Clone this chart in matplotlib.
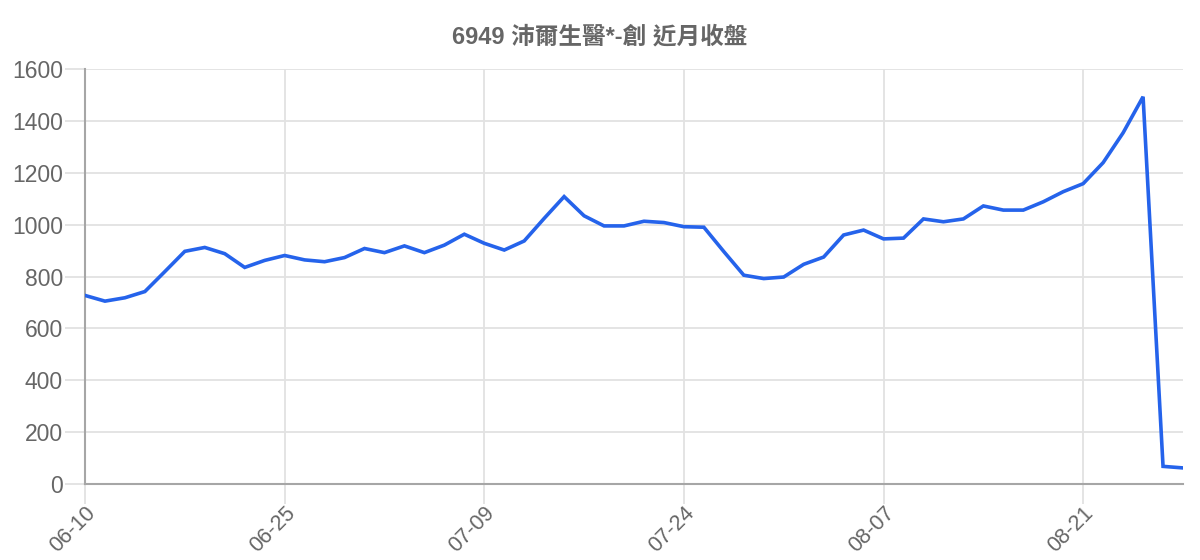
import matplotlib
matplotlib.use("Agg")
import matplotlib.pyplot as plt
import numpy as np

title = "6949 沛爾生醫*-創 近月收盤"
closes = [727, 705, 718, 742, 819, 897, 912, 888, 835, 862,
          881, 864, 857, 873, 908, 892, 918, 892, 921, 963,
          928, 902, 937, 1024, 1108, 1034, 995, 995, 1013, 1008,
          992, 990, 896, 805, 792, 798, 847, 875, 960, 979,
          945, 948, 1022, 1011, 1022, 1072, 1056, 1056, 1088, 1127,
          1158, 1239, 1354, 1493, 68, 62]
tick_labels = ["06-10", "06-25", "07-09", "07-24", "08-07", "08-21"]
tick_step = 10
y_ticks = [0, 200, 400, 600, 800, 1000, 1200, 1400, 1600]

plt.rcParams['font.family'] = ['Liberation Sans', 'Noto Sans CJK TC', 'DejaVu Sans']

fig = plt.figure(figsize=(12, 5.6), dpi=100)
ax = fig.add_axes([85/1200, 1-484/560, (1183-85)/1200, (484-69)/560])

x = np.arange(len(closes))
ax.plot(x, closes, color='#2563eb', lw=2.6, solid_joinstyle='miter', zorder=3)

ax.set_xlim(0, len(closes)-1)
ax.set_ylim(0, 1600)
ax.set_yticks(y_ticks)
ax.set_yticklabels([str(v) for v in y_ticks])
ax.set_xticks(x[::tick_step])
ax.set_xticklabels(tick_labels, rotation=45, ha='right', va='top', rotation_mode='anchor')

ax.grid(True, color='#e2e2e2', lw=1.3, zorder=0)
ax.tick_params(axis='both', colors='#e2e2e2', width=1.3, length=14.4, labelcolor='#666666', labelsize=16.5)
ax.tick_params(axis='x', pad=-1, labelsize=15.5)
ax.tick_params(axis='y', pad=1.5)
for s in ['top', 'right']:
    ax.spines[s].set_visible(False)
for s in ['left', 'bottom']:
    ax.spines[s].set_color('#a6a6a6')
    ax.spines[s].set_linewidth(1.5)
ax.set_axisbelow(True)

fig.text(0.5, 1-37/560, title, ha='center', va='center', fontsize=17, fontweight='bold', color='#666666')

fig.savefig('out.png', dpi=100)
